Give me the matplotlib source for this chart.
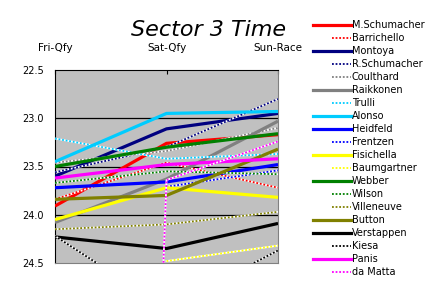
import numpy as np
import matplotlib
matplotlib.use('Agg')
import matplotlib.pyplot as plt
from matplotlib.lines import Line2D
from matplotlib.legend_handler import HandlerTuple

# sessions and drivers
sessions = ['Fri-Qfy', 'Sat-Qfy', 'Sun-Race']
drivers = ['M.Schumacher', 'Barrichello', 'Montoya', 'R.Schumacher',
           'Coulthard', 'Raikkonen', 'Trulli', 'Alonso', 'Heidfeld',
           'Frentzen', 'Fisichella', 'Baumgartner', 'Webber', 'Wilson',
           'Villeneuve', 'Button', 'Verstappen', 'Kiesa', 'Panis', 'da Matta']

# sector 3 times (s), nan = no time
m_schumacher = [23.91, 23.26, 23.17]
barrichello = [23.84, 23.46, 23.72]
montoya = [23.60, 23.11, 22.95]
r_schumacher = [23.56, 23.30, 22.80]
coulthard = [23.46, 23.34, 23.10]
raikkonen = [24.08, 23.63, 23.03]
trulli = [23.21, 23.42, 23.37]
alonso = [23.45, 22.95, 22.93]
heidfeld = [23.72, 23.66, 23.48]
frentzen = [np.nan, 23.71, 23.54]
fisichella = [24.05, 23.72, 23.82]
baumgartner = [np.nan, 24.48, 24.32]
webber = [23.50, 23.30, 23.16]
wilson = [23.67, 23.55, 23.58]
villeneuve = [24.15, 24.10, 23.97]
button = [23.84, 23.80, 23.32]
verstappen = [24.23, 24.35, 24.09]
kiesa = [24.22, 24.97, 24.37]
panis = [23.62, 23.48, 23.42]
da_matta = [55.0, 23.64, 23.24]

times = [m_schumacher, barrichello, montoya, r_schumacher, coulthard,
         raikkonen, trulli, alonso, heidfeld, frentzen, fisichella,
         baumgartner, webber, wilson, villeneuve, button, verstappen,
         kiesa, panis, da_matta]

colors = ['#FF0000', '#FF0000', '#000080', '#000080', '#808080', '#808080',
          '#00CCFF', '#00CCFF', '#0000FF', '#0000FF', '#FFFF00', '#FFFF00',
          '#008000', '#008000', '#808000', '#808000', '#000000', '#000000',
          '#FF00FF', '#FF00FF']
# True = thick solid, False = thin dotted
solid = [True, False, True, False, False, True, False, True, True, False,
         True, False, True, False, False, True, True, False, True, False]

fig = plt.figure(figsize=(4.31, 2.87), dpi=100)
fig.patch.set_facecolor('white')
ax = fig.add_axes([55 / 431, 1 - 263 / 287, 223 / 431, 193 / 287])
ax.set_facecolor('#C0C0C0')

x = np.arange(len(sessions))
handles = []
for name, y, c, s in zip(drivers, times, colors, solid):
    y = np.array(y, dtype=float)
    if s:
        ax.plot(x, y, color=c, lw=2.3, solid_capstyle='butt', zorder=3)
        h = Line2D([], [], color=c, lw=2.3)
    else:
        ax.plot(x, y, color='white', lw=1.3, zorder=3)
        ax.plot(x, y, color=c, lw=1.3, linestyle=(0, (1, 1)), zorder=3)
        h = (Line2D([], [], color='white', lw=1.3),
             Line2D([], [], color=c, lw=1.3, linestyle=(0, (1, 1))))
    handles.append(h)

ax.set_xlim(0, 2)
ax.set_ylim(24.5, 22.5)
ax.set_yticks([22.5, 23.0, 23.5, 24.0, 24.5])
ax.set_yticklabels(['22.5', '23.0', '23.5', '24.0', '24.5'], fontsize=7)
ax.tick_params(axis='y', length=0, pad=8)
ax.set_xticks(x)
ax.set_xticklabels(sessions, fontsize=7.5)
ax.xaxis.tick_top()
ax.tick_params(axis='x', direction='in', length=3, pad=12)
for yv in [23.0, 23.5, 24.0]:
    ax.axhline(yv, color='black', lw=0.9, zorder=2)
ax.spines['top'].set_color('black')
ax.spines['left'].set_color('black')
ax.spines['right'].set_color('#808080')
ax.spines['bottom'].set_color('#808080')

fig.text(209 / 431, 1 - 30 / 287, 'Sector 3 Time', fontsize=16,
         style='italic', ha='center', va='center')

fig.legend(handles, drivers, loc='upper left',
           bbox_to_anchor=(313 / 431, 1 - 20 / 287), frameon=False,
           fontsize=7, handlelength=3.9, handletextpad=0.1,
           labelspacing=0.31, borderpad=0, borderaxespad=0,
           handler_map={tuple: HandlerTuple(ndivide=None, pad=0)})

fig.savefig('out.png', dpi=100)
